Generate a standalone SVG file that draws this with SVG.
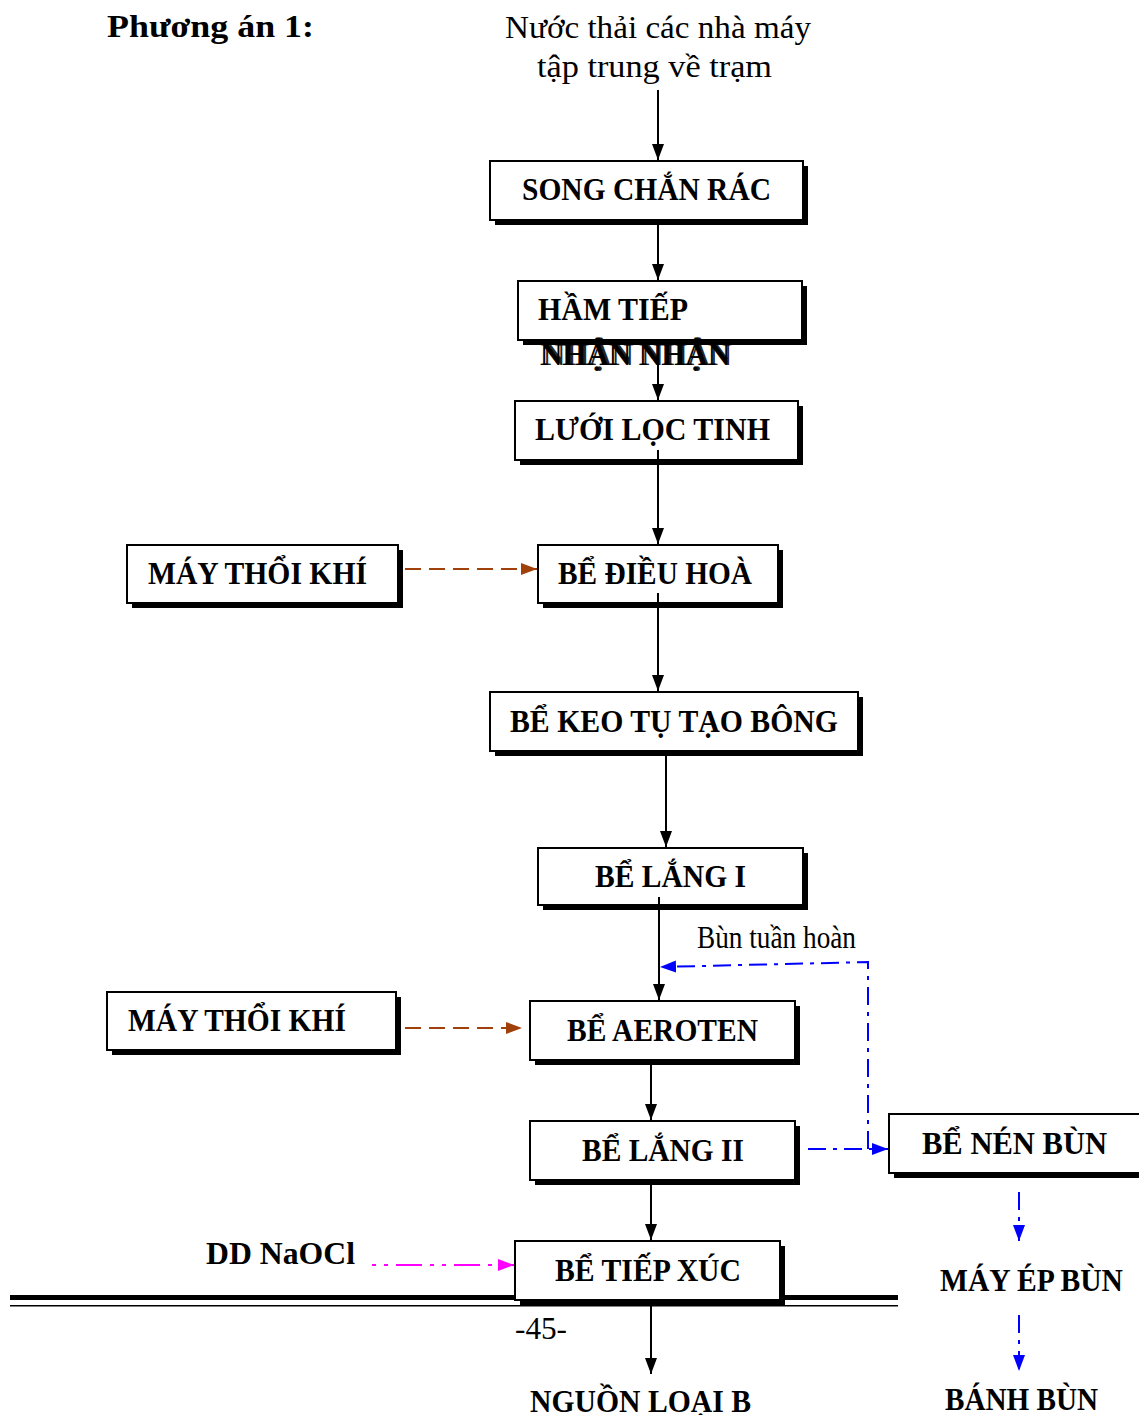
<svg xmlns="http://www.w3.org/2000/svg" width="1139" height="1415" viewBox="0 0 1139 1415">
<defs>
<style>
.sh{fill:#000}
.bx{fill:#fff;stroke:#000;stroke-width:2}
.lb{font-family:"Liberation Serif","Times New Roman",serif;font-weight:bold;font-size:31px;fill:#000}
.nt{font-family:"Liberation Serif","Times New Roman",serif;font-size:31px;fill:#000}
.ln{stroke:#000;stroke-width:2;fill:none}
.br{stroke:#A0400A;stroke-width:2;fill:none;stroke-dasharray:16 8}
.bl{stroke:#0000FF;stroke-width:2;fill:none;stroke-dasharray:18 7 4 7}
.mg{stroke:#FF00FF;stroke-width:2;fill:none;stroke-dasharray:4 8 4 8 26 8}
</style>
<marker id="ak" markerUnits="userSpaceOnUse" markerWidth="16" markerHeight="14" viewBox="0 0 16 14" refX="16" refY="7" orient="auto"><path d="M0,1 L16,7 L0,13 Z" fill="#000"/></marker>
<marker id="ab" markerUnits="userSpaceOnUse" markerWidth="16" markerHeight="14" viewBox="0 0 16 14" refX="16" refY="7" orient="auto"><path d="M0,1 L16,7 L0,13 Z" fill="#A0400A"/></marker>
<marker id="au" markerUnits="userSpaceOnUse" markerWidth="16" markerHeight="14" viewBox="0 0 16 14" refX="16" refY="7" orient="auto"><path d="M0,1 L16,7 L0,13 Z" fill="#0000FF"/></marker>
<marker id="am" markerUnits="userSpaceOnUse" markerWidth="16" markerHeight="14" viewBox="0 0 16 14" refX="16" refY="7" orient="auto"><path d="M0,1 L16,7 L0,13 Z" fill="#FF00FF"/></marker>
</defs>
<rect width="1139" height="1415" fill="#fff"/>

<g id="title"><text class="lb" x="107" y="37" font-size="36" textLength="207" lengthAdjust="spacingAndGlyphs">Phương án 1:</text></g>
<g id="source">
<text class="nt" x="505" y="38" textLength="306" lengthAdjust="spacingAndGlyphs">Nước thải các nhà máy</text>
<text class="nt" x="537" y="77" textLength="235" lengthAdjust="spacingAndGlyphs">tập trung về trạm</text>
</g>

<g id="page-rule">
<rect x="10" y="1295" width="888" height="5" fill="#000"/>
<rect x="10" y="1305" width="888" height="1.5" fill="#000"/>
<text class="nt" x="515" y="1339" font-size="28" textLength="52" lengthAdjust="spacingAndGlyphs">-45-</text>
</g>

<g id="song-chan-rac">
<rect class="sh" x="495" y="166" width="313" height="59"/>
<rect class="bx" x="490" y="161" width="313" height="59"/>
<text class="lb" x="522" y="200" textLength="249" lengthAdjust="spacingAndGlyphs">SONG CHẮN RÁC</text>
</g>
<g id="ham-tiep-nhan">
<rect class="sh" x="523" y="286" width="284" height="59"/>
<rect class="bx" x="518" y="281" width="284" height="59"/>
<text class="lb" x="538" y="320" textLength="150" lengthAdjust="spacingAndGlyphs">HẦM TIẾP</text>
<text class="lb" x="540" y="365" font-weight="normal" textLength="190" lengthAdjust="spacingAndGlyphs">NHẬN NHẬN</text>
<text class="lb" x="543" y="365" textLength="189" lengthAdjust="spacingAndGlyphs" opacity="0.85">NHẬN NHẬN</text>
</g>
<g id="luoi-loc-tinh">
<rect class="sh" x="520" y="406" width="283" height="59"/>
<rect class="bx" x="515" y="401" width="283" height="59"/>
<text class="lb" x="535" y="440" textLength="235" lengthAdjust="spacingAndGlyphs">LƯỚI LỌC TINH</text>
</g>
<g id="may-thoi-khi-1">
<rect class="sh" x="132" y="550" width="271" height="58"/>
<rect class="bx" x="127" y="545" width="271" height="58"/>
<text class="lb" x="148" y="584" textLength="219" lengthAdjust="spacingAndGlyphs">MÁY THỔI KHÍ</text>
</g>
<g id="be-dieu-hoa">
<rect class="sh" x="543" y="550" width="240" height="58"/>
<rect class="bx" x="538" y="545" width="240" height="58"/>
<text class="lb" x="558" y="584" textLength="194" lengthAdjust="spacingAndGlyphs">BỂ ĐIỀU HOÀ</text>
</g>
<g id="be-keo-tu">
<rect class="sh" x="495" y="697" width="368" height="59"/>
<rect class="bx" x="490" y="692" width="368" height="59"/>
<text class="lb" x="510" y="732" textLength="328" lengthAdjust="spacingAndGlyphs">BỂ KEO TỤ TẠO BÔNG</text>
</g>
<g id="be-lang-1">
<rect class="sh" x="543" y="853" width="265" height="57"/>
<rect class="bx" x="538" y="848" width="265" height="57"/>
<text class="lb" x="595" y="887" textLength="151" lengthAdjust="spacingAndGlyphs">BỂ LẮNG I</text>
</g>
<g id="may-thoi-khi-2">
<rect class="sh" x="112" y="997" width="289" height="58"/>
<rect class="bx" x="107" y="992" width="289" height="58"/>
<text class="lb" x="128" y="1031" textLength="218" lengthAdjust="spacingAndGlyphs">MÁY THỔI KHÍ</text>
</g>
<g id="be-aeroten">
<rect class="sh" x="535" y="1006" width="265" height="59"/>
<rect class="bx" x="530" y="1001" width="265" height="59"/>
<text class="lb" x="567" y="1041" textLength="191" lengthAdjust="spacingAndGlyphs">BỂ AEROTEN</text>
</g>
<g id="be-lang-2">
<rect class="sh" x="535" y="1126" width="265" height="59"/>
<rect class="bx" x="530" y="1121" width="265" height="59"/>
<text class="lb" x="582" y="1161" textLength="162" lengthAdjust="spacingAndGlyphs">BỂ LẮNG II</text>
</g>
<g id="be-nen-bun">
<rect class="sh" x="894" y="1119" width="250" height="59"/>
<rect class="bx" x="889" y="1114" width="255" height="59"/>
<text class="lb" x="922" y="1154" textLength="185" lengthAdjust="spacingAndGlyphs">BỂ  NÉN BÙN</text>
</g>
<g id="be-tiep-xuc">
<rect class="sh" x="520" y="1246" width="265" height="59"/>
<rect class="bx" x="515" y="1241" width="265" height="59"/>
<text class="lb" x="555" y="1281" textLength="186" lengthAdjust="spacingAndGlyphs">BỂ TIẾP XÚC</text>
</g>
<g id="dd-naocl"><text class="lb" x="206" y="1264" textLength="149" lengthAdjust="spacingAndGlyphs">DD NaOCl</text></g>
<g id="may-ep-bun"><text class="lb" x="940" y="1291" textLength="183" lengthAdjust="spacingAndGlyphs">MÁY ÉP BÙN</text></g>
<g id="banh-bun"><text class="lb" x="945" y="1410" textLength="153" lengthAdjust="spacingAndGlyphs">BÁNH BÙN</text></g>
<g id="nguon-loai-b"><text class="lb" x="530" y="1412" textLength="221" lengthAdjust="spacingAndGlyphs">NGUỒN LOẠI B</text></g>
<g id="label-bun-tuan-hoan"><text class="nt" x="697" y="948" font-size="26" textLength="159" lengthAdjust="spacingAndGlyphs">Bùn tuần hoàn</text></g>

<g id="connectors">
<line class="ln" x1="658" y1="90" x2="658" y2="160" marker-end="url(#ak)"/>
<line class="ln" x1="658" y1="225" x2="658" y2="280" marker-end="url(#ak)"/>
<line class="ln" x1="658" y1="341" x2="658" y2="400" marker-end="url(#ak)"/>
<line class="ln" x1="658" y1="450" x2="658" y2="544" marker-end="url(#ak)"/>
<line class="ln" x1="658" y1="593" x2="658" y2="691" marker-end="url(#ak)"/>
<line class="ln" x1="666" y1="756" x2="666" y2="847" marker-end="url(#ak)"/>
<line class="ln" x1="659" y1="897" x2="659" y2="1000" marker-end="url(#ak)"/>
<line class="ln" x1="651" y1="1065" x2="651" y2="1120" marker-end="url(#ak)"/>
<line class="ln" x1="651" y1="1185" x2="651" y2="1240" marker-end="url(#ak)"/>
<line class="ln" x1="651" y1="1305" x2="651" y2="1374" marker-end="url(#ak)"/>
<line class="br" x1="405" y1="569" x2="537" y2="569" marker-end="url(#ab)"/>
<line class="br" x1="405" y1="1028" x2="522" y2="1028" marker-end="url(#ab)"/>
<polyline class="bl" points="868,1149 868,962 660,967" marker-end="url(#au)"/>
<line class="bl" x1="808" y1="1149" x2="888" y2="1149" marker-end="url(#au)"/>
<line class="bl" x1="1019" y1="1192" x2="1019" y2="1241" marker-end="url(#au)"/>
<line class="bl" x1="1019" y1="1315" x2="1019" y2="1371" marker-end="url(#au)"/>
<line class="mg" x1="372" y1="1265" x2="514" y2="1265" marker-end="url(#am)"/>
</g>
</svg>
